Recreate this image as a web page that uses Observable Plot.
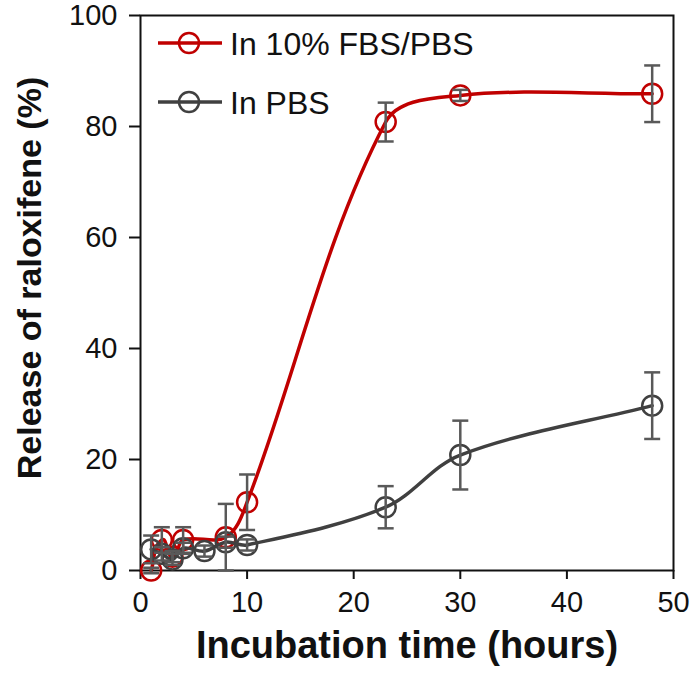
<!DOCTYPE html>
<html><head><meta charset="utf-8">
<script src="https://cdn.jsdelivr.net/npm/d3@7"></script>
<script src="https://cdn.jsdelivr.net/npm/@observablehq/plot@0.6"></script>
<style>body{margin:0;background:#fff} #chart{width:700px;height:687px}</style>
</head><body><div id="chart"></div>
<script>
// ---- data ----
const fbsHours   = [1, 2, 3, 4, 8, 10, 23, 30, 48];
const fbsRelease = [0, 5.5, 2.5, 5.5, 6, 12.3, 80.8, 85.6, 85.9];
const fbsErr     = [0.5, 2.3, 1, 2.3, 6, 5, 3.5, 1, 5.1];
const pbsHours   = [1, 2, 3, 4, 6, 8, 10, 23, 30, 48];
const pbsRelease = [3.8, 3, 2, 4, 3.5, 5.1, 4.6, 11.4, 20.8, 29.7];
const pbsErr     = [2.5, 1.2, 1, 1, 1, 1, 1, 3.8, 6.2, 6];
const seriesNames  = ["In 10% FBS/PBS", "In PBS"];
const seriesColors = ["#c00000", "#404040"];
const xTicks = [0, 10, 20, 30, 40, 50];
const yTicks = [0, 20, 40, 60, 80, 100];
const xTitle = "Incubation time (hours)";
const yTitle = "Release of raloxifene (%)";

const fbs = fbsHours.map((t, i) => ({t, v: fbsRelease[i], e: fbsErr[i], s: seriesNames[0]}));
const pbs = pbsHours.map((t, i) => ({t, v: pbsRelease[i], e: pbsErr[i], s: seriesNames[1]}));
const all = [...fbs, ...pbs];

const FONT = "'Liberation Sans', Arial, sans-serif";
const errColor = "#595959";
const capSymbol = {draw(ctx) { ctx.moveTo(-8, 0); ctx.lineTo(8, 0); }};

// spreadsheet-style smoothed line: tangent along neighbours, length scaled to each segment
function smoothCurve(context) {
  let pts;
  return {
    areaStart() {}, areaEnd() {},
    lineStart() { pts = []; },
    point(x, y) { pts.push([+x, +y]); },
    lineEnd() {
      const n = pts.length;
      if (!n) return;
      context.moveTo(pts[0][0], pts[0][1]);
      if (n === 1) return;
      const dir = i => {
        const a = pts[Math.max(0, i - 1)], b = pts[Math.min(n - 1, i + 1)];
        const dx = b[0] - a[0], dy = b[1] - a[1];
        const L = Math.hypot(dx, dy) || 1;
        return [dx / L, dy / L];
      };
      for (let i = 0; i < n - 1; i++) {
        const p = pts[i], q = pts[i + 1];
        const d = Math.hypot(q[0] - p[0], q[1] - p[1]) / 3;
        const u = dir(i), v = dir(i + 1);
        context.bezierCurveTo(p[0] + u[0] * d, p[1] + u[1] * d, q[0] - v[0] * d, q[1] - v[1] * d, q[0], q[1]);
      }
    }
  };
}

const chart = Plot.plot({
  width: 700, height: 687,
  marginLeft: 140, marginRight: 27, marginTop: 15, marginBottom: 117,
  style: {fontFamily: FONT, background: "#fff", color: "#111"},
  x: {domain: [0, 50]},
  y: {domain: [0, 100]},
  marks: [
    Plot.frame({stroke: "#111", strokeWidth: 2}),
    Plot.axisX({ticks: xTicks, tickSize: 9, tickPadding: 12, fontSize: 29, label: null, stroke: "#111", strokeWidth: 2}),
    Plot.axisY({ticks: yTicks, tickSize: 11, tickPadding: 12, fontSize: 29, label: null, stroke: "#111", strokeWidth: 2}),
    // red series
    Plot.line(fbs, {x: "t", y: "v", stroke: seriesColors[0], strokeWidth: 3.5, curve: smoothCurve}),
    Plot.dot(fbs, {x: "t", y: "v", r: 10, stroke: seriesColors[0], strokeWidth: 2.5, fill: "none"}),
    // gray series
    Plot.line(pbs, {x: "t", y: "v", stroke: seriesColors[1], strokeWidth: 3.5, curve: smoothCurve}),
    Plot.dot(pbs, {x: "t", y: "v", r: 10, stroke: seriesColors[1], strokeWidth: 2.5, fill: "none"}),
    // error bars
    Plot.ruleX(all, {x: "t", y1: d => d.v - d.e, y2: d => d.v + d.e, stroke: errColor, strokeWidth: 2.5}),
    Plot.dot(all, {x: "t", y: d => d.v + d.e, symbol: capSymbol, stroke: errColor, strokeWidth: 2.5, r: 5}),
    Plot.dot(all, {x: "t", y: d => d.v - d.e, symbol: capSymbol, stroke: errColor, strokeWidth: 2.5, r: 5}),
    // titles
    Plot.text([xTitle], {frameAnchor: "bottom", textAnchor: "middle", dy: 87, fontSize: 38, fontWeight: "bold", fill: "#111"}),
    Plot.text([yTitle], {frameAnchor: "left", textAnchor: "middle", rotate: -90, dx: -110, dy: -15, fontSize: 34, fontWeight: "bold", fill: "#111"})
  ]
});

// legend inside the plot, top-left
const svg = d3.select(chart);
const leg = svg.append("g").attr("font-family", FONT);
seriesNames.forEach((name, i) => {
  const y = 43 + i * 59;
  const g = leg.append("g").attr("transform", `translate(0,${y})`);
  g.append("line").attr("x1", 158).attr("x2", 222).attr("y1", 0).attr("y2", 0)
    .attr("stroke", seriesColors[i]).attr("stroke-width", 3.5);
  g.append("circle").attr("cx", 189).attr("cy", 0).attr("r", 10)
    .attr("fill", "none").attr("stroke", seriesColors[i]).attr("stroke-width", 2.5);
  g.append("text").attr("x", 230).attr("y", 0).attr("dy", "0.36em")
    .attr("text-anchor", "start").attr("font-size", 32).attr("fill", "#111").text(name);
});

document.getElementById("chart").appendChild(chart);
</script>
</body></html>
